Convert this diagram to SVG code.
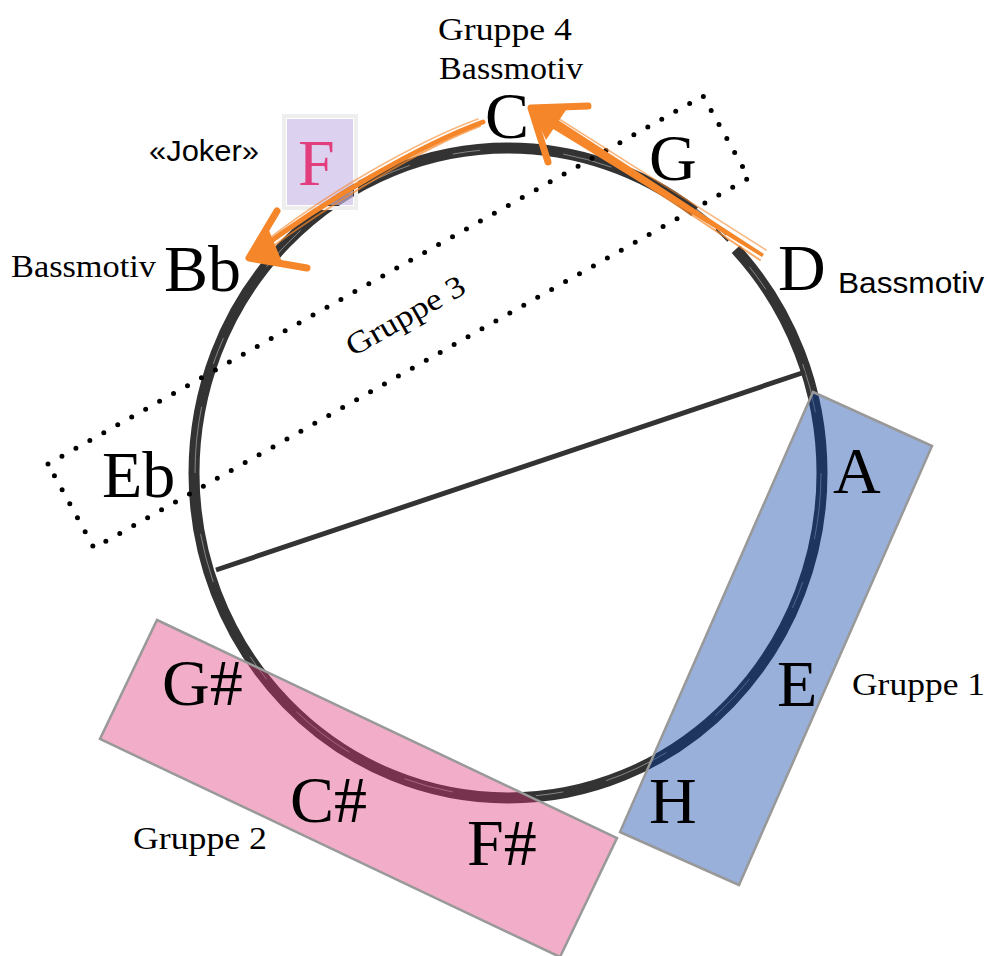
<svg xmlns="http://www.w3.org/2000/svg" width="989" height="956" viewBox="0 0 989 956">
<style>
.note{font-family:"Liberation Serif","Times New Roman",serif;font-size:66px;fill:#000}
.lbl{font-family:"Liberation Serif","Times New Roman",serif;font-size:31px;fill:#000}
.sans{font-family:"Liberation Sans",Arial,sans-serif;font-size:30px;fill:#000}
.grp{stroke:#999;stroke-width:2.5;fill-opacity:.4}
.or{fill:none;stroke:#F5862A;stroke-linecap:round;stroke-linejoin:round}
.orf{fill:#F5862A}
.ring{fill:none;stroke:#333}
</style>
<rect width="989" height="956" fill="#fff"/>
<g id="circle">
  <ellipse class="ring" cx="508" cy="473" rx="314" ry="325" stroke-width="11" pathLength="360" stroke-dasharray="306 10 44"/>
  <ellipse class="ring" cx="508" cy="473" rx="317" ry="328" stroke-width="1.5" pathLength="360" stroke-dasharray="30 4 50 6 40 5 60 3 70 5 40 7 40" opacity=".7"/>
  <ellipse cx="508" cy="473" rx="313" ry="324" fill="none" stroke="#fff" stroke-width="0.9" pathLength="360" stroke-dasharray="12 8 5 15 9 11" opacity=".45"/>
  <ellipse class="ring" cx="508" cy="473" rx="314" ry="325" stroke-width="2" pathLength="360" stroke-dasharray="0 306 3 2 3 2 0 44"/>
</g>
<g id="diameter">
  <line x1="805" y1="372" x2="216" y2="570" stroke="#333" stroke-width="5"/>
</g>
<g id="gruppe3">
  <polygon points="48,464 703,96 749,178 94,548" fill="none" stroke="#000" stroke-width="5" stroke-dasharray="0 16" stroke-linecap="round"/>
  <text class="lbl" x="353" y="357" font-size="29" textLength="132" lengthAdjust="spacingAndGlyphs" transform="rotate(-29.5 353 357)">Gruppe 3</text>
</g>
<g id="gruppe1">
  <polygon class="grp" points="813,392 932,446 739,885 620,832" fill="#0039A6"/>
  <text class="lbl" x="852" y="695" textLength="133" lengthAdjust="spacingAndGlyphs">Gruppe 1</text>
</g>
<g id="gruppe2">
  <polygon class="grp" points="157,620 617,838 560,957 100,739" fill="#DE3475"/>
  <text class="lbl" x="133" y="849" textLength="134" lengthAdjust="spacingAndGlyphs">Gruppe 2</text>
</g>
<g id="joker">
  <rect x="284" y="116" width="72" height="92" fill="none" stroke="#eeeeee" stroke-width="4"/>
  <rect x="287" y="119" width="66" height="86" fill="#C9B8E6" fill-opacity=".65"/>
  <text class="note" x="298" y="185" style="fill:#E23D7D">F</text>
  <text class="sans" x="149" y="161" textLength="110" lengthAdjust="spacingAndGlyphs">«Joker»</text>
</g>
<g id="connectors">
  <g id="arrow-d-c">
    <polygon class="orf" points="532,116 538,107 764,254 762,257"/>
    <path class="or" d="M545,118 L760,260" stroke-width="2" opacity=".7"/>
    <path class="or" d="M548,112 L766,250" stroke-width="1.5" opacity=".6"/>
    <path class="or" d="M588,106 L531,108 L548,162" stroke-width="7"/>
    <polygon class="orf" points="531,108 566,110 546,140"/>
  </g>
  <g id="arrow-c-bb">
    <path class="or" d="M483,122 C420,145 325,200 252,255" stroke-width="5"/>
    <path class="or" d="M480,126 C420,149 330,204 258,257" stroke-width="2" opacity=".7"/>
    <path class="or" d="M478,119 C418,141 322,195 256,249" stroke-width="1.5" opacity=".6"/>
    <path class="or" d="M277,211 L249,258 L307,268" stroke-width="7"/>
    <polygon class="orf" points="249,258 268,228 282,262"/>
  </g>
</g>
<g id="note-C"><text class="note" x="485" y="138">C</text></g>
<g id="note-G"><text class="note" x="649" y="180">G</text></g>
<g id="note-D"><text class="note" x="778" y="290">D</text><text class="sans" x="838" y="293" textLength="146" lengthAdjust="spacingAndGlyphs">Bassmotiv</text></g>
<g id="note-Bb"><text class="note" x="164" y="291">Bb</text><text class="lbl" x="11" y="277" textLength="145" lengthAdjust="spacingAndGlyphs">Bassmotiv</text></g>
<g id="note-Eb"><text class="note" x="102" y="497">Eb</text></g>
<g id="note-A"><text class="note" x="833" y="493">A</text></g>
<g id="note-E"><text class="note" x="777" y="706">E</text></g>
<g id="note-H"><text class="note" x="649" y="823">H</text></g>
<g id="note-Gs"><text class="note" x="162" y="705">G#</text></g>
<g id="note-Cs"><text class="note" x="290" y="822">C#</text></g>
<g id="note-Fs"><text class="note" x="467" y="865">F#</text></g>
<g id="gruppe4-label">
  <text class="lbl" x="438" y="40" textLength="134" lengthAdjust="spacingAndGlyphs">Gruppe 4</text>
  <text class="lbl" x="439" y="79" textLength="144" lengthAdjust="spacingAndGlyphs">Bassmotiv</text>
</g>
</svg>
